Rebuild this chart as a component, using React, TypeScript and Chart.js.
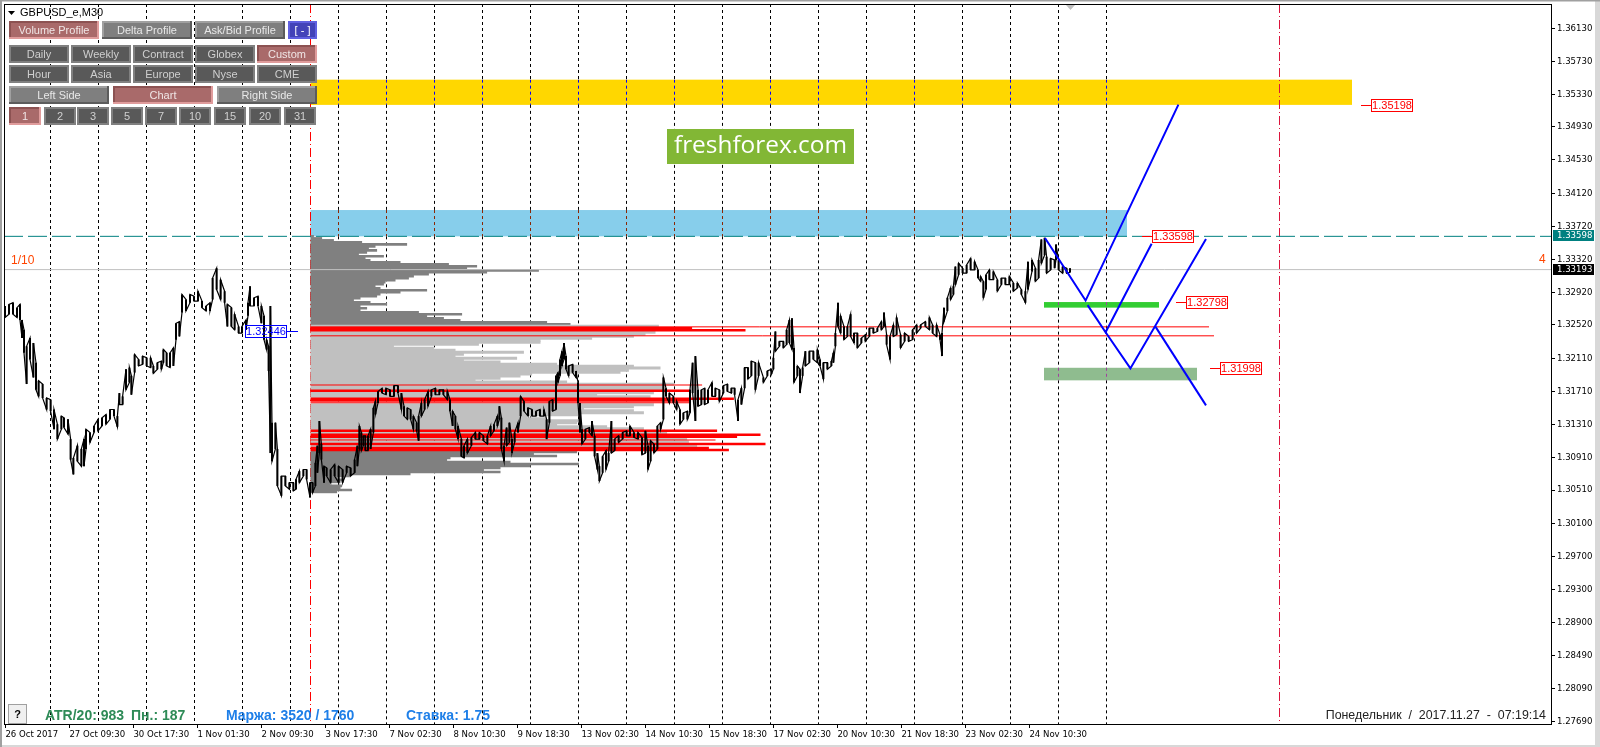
import React, { useEffect, useRef } from "react";
import { Chart, registerables } from "chart.js";

Chart.register(...registerables);

const POINT = 0.0001;

const priceTicks = [1.3613, 1.3573, 1.3533, 1.3493, 1.3453, 1.3412, 1.3372, 1.3332, 1.3292, 1.3252, 1.3211, 1.3171, 1.3131, 1.3091, 1.3051, 1.301, 1.297, 1.293, 1.289, 1.2849, 1.2809, 1.2769];
const timeLabels = ["26 Oct 2017", "27 Oct 09:30", "30 Oct 17:30", "1 Nov 01:30", "2 Nov 09:30", "3 Nov 17:30", "7 Nov 02:30", "8 Nov 10:30", "9 Nov 18:30", "13 Nov 02:30", "14 Nov 10:30", "15 Nov 18:30", "17 Nov 02:30", "20 Nov 10:30", "21 Nov 18:30", "23 Nov 02:30", "24 Nov 10:30"];
const timeTickBars = [0, 32, 64, 96, 128, 160, 192, 224, 256, 288, 320, 352, 384, 416, 448, 480, 512];

// M30 price trace: bar position, high and low, in points
const priceBars = [
  -0.2, 1.8, 3.8, 5.8, 7.3, 8.3, 9.3, 10.6, 12.3, 14, 15.3, 16.6, 18.6, 20.6, 22.6, 24.3, 26, 28, 29.3, 31.3, 32.6, 34, 36, 38, 39.3, 40.3, 42.3, 44.3, 46.3, 48.3, 50.3, 52.3, 54.3, 56, 57, 58.6, 60.3, 62, 63, 64.6, 66.6, 68.6, 70.6, 72.6, 74, 76, 78, 79, 80.6, 82.3, 84, 85.3, 87, 88.3, 90.3, 92.3, 94.3, 96.3, 98.3, 100.3, 102.3, 103.6, 105.6, 107.6, 109.6, 111, 113, 114.6, 116.6, 118.3, 120.3, 121.3, 122.3, 124.3, 126.3, 128, 129.3, 130.6, 131.6, 132.5, 133.3, 135, 136, 138, 140, 142, 144, 145.3, 147, 149, 150.6,
  152.3, 153.6, 155, 156, 157, 158, 159.3, 160.6, 162.6, 164.6, 166.6, 168.6, 170.6, 172.6, 174.6, 176, 177, 178, 179, 180, 181.3, 182.6, 184, 185, 186.3, 188.3, 190.3, 192.3, 194.3, 196.3, 198, 199.3, 201, 202.6, 204, 205.6, 206.6, 208, 209.6, 211.3, 213, 215, 217, 219, 221, 222.3, 223.6, 225, 226.3, 228, 229.3, 231, 233, 235, 237, 239, 241, 242.6, 244.3, 246, 247, 248, 249.3, 250.6, 252, 253.3, 254.6, 256.3, 257.6, 259.3, 261.3, 263.3, 265.3, 267.3, 269.3, 270.6, 272, 273.6, 275.3, 276.3, 277.3, 278.3, 279.3, 280.3, 281.6, 283.6, 285.3, 286.3, 287.3, 288.3, 290, 292, 293.3, 294.6, 296, 297, 298.6, 300.3, 301.6, 303, 304.6, 306.6, 308.6, 310.6, 312.3, 314.3, 316.3, 318.3, 320, 321.3, 322.6, 324.3, 326, 327.6, 329, 330.3, 332, 334, 335.6, 337.3, 339, 341, 342.3, 343.6, 345, 346.3, 348, 349.6, 351.3, 353.3, 355, 357, 359, 361, 363, 364.6, 366.3, 368, 369.6, 371.3, 373, 375, 376.6,
  379, 381, 383, 384, 385, 387, 389, 390.6, 392, 393.3, 394.3, 396, 397.3, 398.6, 400, 402, 404, 406, 407.3, 409, 411, 413, 414, 415, 416.3, 417.6, 419.3, 421, 422.6, 424.3, 426, 428, 430, 432, 434, 436, 438, 439.3, 440.6, 442.3, 444, 445.6, 447.6, 449.6, 451.6, 453.6, 455.6, 457.6, 460, 462, 463.6, 465.6, 467.3, 468.3, 469.3, 471, 472.6, 474, 475, 476.6, 478.6, 480.6, 482.6, 484.6, 486.3, 487.6, 489, 490.3, 492, 494, 496, 498, 500, 502, 504, 506, 508, 510, 511.3, 513.3, 515, 516.6, 518, 519.6, 520.6, 522.6, 524.6, 525.3, 526.6, 528.6, 530.6, 532.3,
];
const priceHighs = [
  13275, 13277, 13279, 13273, 13277, 13258, 13246, 13226, 13236, 13230, 13206, 13184, 13180, 13163, 13161, 13149, 13131, 13141, 13139, 13137, 13113, 13090, 13105, 13101, 13113, 13125, 13121, 13129, 13137, 13139, 13143, 13149, 13149, 13141, 13169, 13165, 13198, 13200, 13190, 13216, 13210, 13214, 13212, 13212, 13202, 13206, 13208, 13222, 13218, 13218, 13224, 13254, 13256, 13289, 13283, 13289, 13287, 13293, 13281, 13275, 13279, 13309, 13321, 13307, 13293, 13277, 13273, 13265, 13250, 13250, 13258, 13279, 13299, 13285, 13287, 13275, 13263, 13234, 13226, 13275, 13133, 13133, 13101, 13068, 13068, 13060, 13060, 13064, 13074, 13076, 13076,
  13060, 13060, 13084, 13105, 13135, 13107, 13080, 13078, 13076, 13082, 13080, 13076, 13080, 13078, 13088, 13105, 13129, 13121, 13117, 13117, 13117, 13125, 13151, 13159, 13171, 13175, 13175, 13173, 13178, 13178, 13169, 13153, 13151, 13149, 13141, 13133, 13141, 13157, 13161, 13171, 13173, 13175, 13173, 13173, 13171, 13161, 13147, 13141, 13129, 13113, 13105, 13113, 13115, 13121, 13121, 13117, 13117, 13129, 13131, 13141, 13153, 13139, 13105, 13127, 13133, 13113, 13121, 13133, 13165, 13159, 13151, 13149, 13147, 13149, 13149, 13137, 13159, 13161, 13190, 13194, 13210, 13220, 13230, 13214, 13202, 13204, 13196, 13182, 13157, 13125, 13125, 13127, 13135, 13117, 13096, 13080, 13092, 13099, 13096, 13135, 13113, 13117, 13121, 13123, 13129, 13121, 13121, 13115, 13123, 13105, 13111, 13107, 13129, 13133, 13188, 13175, 13169, 13165, 13159, 13149, 13145, 13147, 13173, 13206, 13214, 13173, 13173, 13175, 13173, 13182, 13175, 13173, 13178, 13180, 13175, 13175, 13161, 13175, 13200, 13200, 13208, 13206, 13206,
  13188, 13196, 13198, 13212, 13244, 13232, 13232, 13246, 13258, 13260, 13224, 13202, 13198, 13200, 13220, 13220, 13220, 13222, 13210, 13206, 13206, 13208, 13218, 13242, 13279, 13263, 13250, 13250, 13265, 13242, 13242, 13236, 13240, 13248, 13248, 13248, 13256, 13267, 13240, 13238, 13252, 13261, 13240, 13242, 13238, 13246, 13252, 13252, 13256, 13261, 13252, 13252, 13240, 13242, 13273, 13285, 13297, 13299, 13323, 13327, 13321, 13325, 13333, 13329, 13319, 13311, 13305, 13313, 13319, 13317, 13307, 13309, 13309, 13311, 13303, 13303, 13295, 13293, 13329, 13331, 13321, 13331, 13356, 13358, 13335, 13333, 13331, 13350, 13331, 13323, 13321, 13321,
];
const priceLows = [
  13261, 13265, 13265, 13261, 13258, 13236, 13218, 13180, 13210, 13188, 13173, 13165, 13163, 13149, 13147, 13125, 13113, 13125, 13127, 13119, 13088, 13070, 13086, 13080, 13080, 13101, 13109, 13121, 13123, 13129, 13131, 13137, 13141, 13128, 13155, 13155, 13173, 13182, 13167, 13194, 13202, 13204, 13202, 13200, 13193, 13198, 13198, 13206, 13202, 13200, 13202, 13234, 13238, 13267, 13269, 13279, 13281, 13281, 13273, 13269, 13269, 13283, 13295, 13283, 13279, 13250, 13250, 13246, 13242, 13242, 13246, 13263, 13275, 13275, 13275, 13254, 13234, 13222, 13196, 13096, 13086, 13101, 13056, 13044, 13056, 13052, 13050, 13052, 13060, 13068, 13064,
  13042, 13048, 13056, 13072, 13096, 13088, 13060, 13068, 13060, 13068, 13060, 13060, 13072, 13068, 13072, 13080, 13101, 13099, 13105, 13099, 13099, 13101, 13121, 13143, 13157, 13169, 13167, 13165, 13165, 13169, 13149, 13141, 13137, 13137, 13125, 13123, 13111, 13141, 13149, 13153, 13165, 13167, 13167, 13167, 13161, 13147, 13129, 13125, 13113, 13092, 13090, 13096, 13105, 13113, 13113, 13111, 13107, 13117, 13123, 13129, 13137, 13101, 13086, 13105, 13109, 13096, 13109, 13121, 13141, 13147, 13141, 13141, 13141, 13141, 13141, 13113, 13133, 13147, 13149, 13182, 13190, 13202, 13210, 13198, 13190, 13194, 13188, 13157, 13121, 13107, 13113, 13121, 13117, 13092, 13076, 13062, 13072, 13076, 13086, 13096, 13099, 13109, 13113, 13117, 13117, 13115, 13113, 13094, 13096, 13076, 13086, 13096, 13101, 13125, 13137, 13165, 13157, 13157, 13149, 13131, 13137, 13137, 13145, 13169, 13135, 13153, 13155, 13155, 13157, 13165, 13165, 13159, 13169, 13171, 13169, 13167, 13135, 13155, 13175, 13186, 13190, 13173, 13190,
  13182, 13190, 13192, 13198, 13220, 13226, 13224, 13228, 13230, 13222, 13182, 13190, 13169, 13190, 13202, 13206, 13210, 13206, 13202, 13186, 13198, 13202, 13206, 13226, 13250, 13242, 13234, 13238, 13238, 13230, 13224, 13230, 13232, 13238, 13242, 13244, 13246, 13250, 13228, 13210, 13238, 13240, 13224, 13232, 13232, 13234, 13242, 13248, 13250, 13246, 13242, 13238, 13234, 13214, 13256, 13269, 13283, 13289, 13301, 13313, 13315, 13315, 13319, 13319, 13309, 13305, 13285, 13295, 13307, 13307, 13293, 13301, 13301, 13301, 13293, 13297, 13289, 13279, 13295, 13317, 13305, 13309, 13327, 13337, 13315, 13319, 13321, 13331, 13319, 13315, 13315, 13316,
];

// Volume profile rows: price level in points, row length in bars
const profileDarkLevels = [13359.8, 13357.3, 13354.9, 13352.5, 13350, 13347.6, 13345.2, 13342.7, 13340.3, 13337.9, 13335.5, 13333, 13330.6, 13328.2, 13325.7, 13323.3, 13320.9, 13318.4, 13316, 13313.6, 13311.2, 13308.7, 13306.3, 13303.9, 13301.4, 13299, 13296.6, 13294.1, 13291.7, 13289.3, 13286.9, 13284.4, 13282, 13279.6, 13277.1, 13274.7, 13272.3, 13269.8, 13267.4, 13265, 13262.6, 13260.1, 13257.7, 13255.3, 13252.8, 13097.3, 13094.9, 13092.4, 13090, 13087.6, 13085.2, 13082.7, 13080.3, 13077.9, 13075.4, 13073, 13070.6, 13068.2, 13065.7, 13063.3, 13060.9, 13058.4, 13056, 13053.6, 13051.1, 13048.7];
const profileDarkLengths = [1.7, 5.8, 11.7, 25.8, 48.3, 32.5, 29.2, 33.3, 28.3, 24.2, 36.7, 27.5, 30, 45, 69.2, 83.3, 78.3, 114.2, 88.3, 59.2, 51.7, 49.2, 42.5, 37.5, 36.7, 32.5, 35, 58.3, 45, 35, 33.3, 25, 21.7, 30, 38.3, 25, 28.3, 25, 54.2, 75.8, 58.3, 66.7, 75, 118.3, 130, 133.3, 111.7, 123.3, 70, 68.3, 100, 134.2, 110, 95, 86.7, 95, 50, 20, 13.3, 15.8, 15, 10, 15.8, 15, 20.8, 13.3];
const profileLightLevels = [13250.4, 13243.1, 13240.7, 13238.3, 13235.8, 13233.4, 13231, 13228.5, 13226.1, 13223.7, 13221.2, 13218.8, 13216.4, 13214, 13211.5, 13209.1, 13206.7, 13204.2, 13201.8, 13199.4, 13196.9, 13194.5, 13192.1, 13189.7, 13187.2, 13184.8, 13182.4, 13179.9, 13176.7, 13174.3, 13169.4, 13167, 13164.5, 13154.8, 13152.4, 13150, 13147.5, 13145.1, 13142.7, 13140.2, 13137.8, 13135.4, 13133, 13130.5, 13128.1, 13125.7, 13120.8, 13113.5, 13109.5, 13104.6];
const profileLightLengths = [174.2, 172.5, 167.5, 161.7, 140.8, 115, 115, 84.2, 41.7, 61.7, 72.5, 106.7, 76.7, 72.5, 103.3, 76.7, 95, 123.3, 161.7, 175, 159.2, 155, 110.8, 105, 95, 82.5, 128.3, 181.7, 176.7, 176.7, 171.7, 143.3, 170, 171.7, 161.7, 136.7, 161.7, 166.7, 135, 108.3, 118.3, 135, 133.3, 123.3, 148.3, 166.7, 178.3, 188.3, 189.2, 193.3];
const profileRedLevels = [13248, 13245.5, 13171.8, 13162.1, 13160.1, 13123.2, 13118.4, 13115.9, 13107, 13102.2, 13099.7];
const profileRedLengths = [190.8, 217.5, 190, 211.7, 190, 203.3, 225, 213.3, 227.5, 199.2, 209.2];
const profileThinRedLevels = [13178.7, 13157.2, 13111.9];
const profileThinRedLengths = [195.8, 190, 202.5];
const profileStartBar = 152.55;

const dividerBars = [22.55, 46.55, 70.55, 94.55, 118.55, 142.55, 166.55, 190.55, 214.55, 238.55, 262.55, 286.55, 310.55, 334.55, 358.55, 382.55, 406.55, 430.55, 454.55, 478.55, 502.55, 526.55, 550.55];
const sessionBars = [152.55, 637.05];
const sessionColors = ["#ff0000", "#dc143c"];

const zoneStarts = [152.55, 152.55, 519.3, 519.3];
const zoneEnds = [673.3, 560.8, 576.8, 595.8];
const zoneTops = [1.35505, 1.33918, 1.32798, 1.31998];
const zoneBottoms = [1.35198, 1.33598, 1.3273, 1.31845];
const zoneFills = ["#ffd700", "#87ceeb", "#32cd32", "#8fbc8f"];
const zoneDividerColors = ["#0000ff", "#8b2500", "#a040a0", "#a040a0"];

// Forecast legs: bar and price pairs, one list per leg
const legBars = [
  [519.8, 540.1, 586.5],
  [541.1, 550.1, 573.1],
  [550.1, 562.5, 600.3],
  [575.1, 600.3],
];
const legPrices = [
  [1.33577, 1.32816, 1.35202],
  [1.3276, 1.3243, 1.33508],
  [1.3243, 1.3199, 1.33565],
  [1.32496, 1.3154],
];

const supportLevels = [1.32496, 1.32387];
const supportEndBars = [601.8, 604.3];
const ceilingLevel = 1.33598;
const bidLevel = 1.33193;

const tagValues = ["1.35198", "1.33598", "1.32798", "1.31998", "1.32446"];
const tagPrices = [1.35198, 1.33598, 1.32798, 1.31998, 1.32446];
const tagBars = [682.8, 573.3, 590.3, 607.3, 119.8];
const tagColors = ["#ff0000", "#ff0000", "#ff0000", "#ff0000", "#0000ff"];

const profileTabs = ["Volume Profile", "Delta Profile", "Ask/Bid Profile"];
const sessionTabs = ["Daily", "Weekly", "Contract", "Globex", "Custom", "Hour", "Asia", "Europe", "Nyse", "CME"];
const sideTabs = ["Left Side", "Chart", "Right Side"];
const countTabs = ["1", "2", "3", "5", "7", "10", "15", "20", "31"];

const SANS = '"Liberation Sans", Arial, sans-serif';
const AXIS = '"DejaVu Sans Condensed", "DejaVu Sans", sans-serif';

function button(ctx: any, x0: number, y0: number, x1: number, y1: number, label: string, fill: string, tl: string, br: string, fg: string) {
  const b = 2;
  ctx.fillStyle = fill;
  ctx.fillRect(x0, y0, x1 - x0, y1 - y0);
  ctx.fillStyle = tl;
  ctx.fillRect(x0, y0, x1 - x0, b);
  ctx.fillRect(x0, y0, b, y1 - y0);
  ctx.fillStyle = br;
  ctx.fillRect(x0, y1 - b, x1 - x0, b);
  ctx.fillRect(x1 - b, y0, b, y1 - y0);
  ctx.fillStyle = fg;
  ctx.font = `11px ${SANS}`;
  ctx.textAlign = "center";
  ctx.textBaseline = "middle";
  ctx.fillText(label, (x0 + x1) / 2, (y0 + y1) / 2 + 0.5);
}
const GREY: [string, string, string, string] = ["#7f7f7f", "#a0a0a0", "#5c5c5c", "#e8e8e8"];
const DARK: [string, string, string, string] = ["#595959", "#808080", "#808080", "#cfcfcf"];
const PRESSED: [string, string, string, string] = ["#a96a6a", "#8c5252", "#e09c9c", "#f0e6e6"];
const BLUE: [string, string, string, string] = ["#4343b8", "#6060e0", "#6060e0", "#ffffff"];

const framePlugin = {
  id: "frame",
  beforeDraw(chart: any) {
    const { ctx, width, height } = chart;
    ctx.save();
    ctx.fillStyle = "#ffffff";
    ctx.fillRect(0, 0, width, height);
    ctx.fillStyle = "#d8d8d8";
    ctx.fillRect(0, height - 2, width, 2);
    ctx.fillRect(width - 5, 0, 5, height);
    ctx.fillStyle = "#a0a0a0";
    ctx.fillRect(0, 0, width, 1.5);
    ctx.fillRect(0, 0, 2, height);
    ctx.restore();
  },
};

const zonePlugin = {
  id: "zones",
  beforeDatasetsDraw(chart: any) {
    const { ctx, scales } = chart;
    ctx.save();
    zoneFills.forEach((fill, i) => {
      const x0 = scales.x.getPixelForValue(zoneStarts[i]);
      const x1 = scales.x.getPixelForValue(zoneEnds[i]);
      const y0 = scales.y.getPixelForValue(zoneTops[i]);
      const y1 = scales.y.getPixelForValue(zoneBottoms[i]);
      ctx.fillStyle = fill;
      ctx.fillRect(x0, y0, x1 - x0, y1 - y0);
    });
    ctx.restore();
  },
};

const overlayPlugin = {
  id: "overlay",
  afterDraw(chart: any) {
    const { ctx, scales, chartArea } = chart;
    const { x, y } = scales;
    ctx.save();
    ctx.strokeStyle = "#000000";
    ctx.lineWidth = 1;
    ctx.strokeRect(chartArea.left + 0.5, chartArea.top + 0.5, chartArea.right - chartArea.left, chartArea.bottom - chartArea.top);

    // price tags
    ctx.font = `11px ${SANS}`;
    tagValues.forEach((text, i) => {
      const left = Math.round(x.getPixelForValue(tagBars[i]));
      const py = Math.round(y.getPixelForValue(tagPrices[i]));
      ctx.strokeStyle = tagColors[i];
      ctx.fillStyle = tagColors[i];
      ctx.lineWidth = 1;
      ctx.beginPath();
      if (i < 4) {
        ctx.moveTo(left - 10, py + 0.5);
        ctx.lineTo(left, py + 0.5);
      } else {
        ctx.moveTo(left + 42, py + 0.5);
        ctx.lineTo(left + 53, py + 0.5);
      }
      ctx.stroke();
      if (i < 4) {
        ctx.fillStyle = "#ffffff";
        ctx.fillRect(left, py - 5, 41, 12);
      }
      ctx.strokeRect(left + 0.5, py - 5.5, 41, 12);
      ctx.fillStyle = tagColors[i];
      ctx.textAlign = "center";
      ctx.textBaseline = "middle";
      ctx.fillText(text, left + 21, py + 1);
    });

    // axis price flags
    const flag = (price: number, bg: string, text: string) => {
      const py = y.getPixelForValue(price);
      ctx.fillStyle = bg;
      ctx.fillRect(1553, Math.round(py) - 6, 41, 11);
      ctx.fillStyle = "#ffffff";
      ctx.font = `9.5px ${AXIS}`;
      ctx.textAlign = "left";
      ctx.textBaseline = "middle";
      ctx.fillText(text, 1557, Math.round(py));
    };
    flag(ceilingLevel, "#008080", "1.33598");
    flag(bidLevel, "#000000", "1.33193");

    // symbol caption
    ctx.fillStyle = "#000000";
    ctx.beginPath();
    ctx.moveTo(8, 11);
    ctx.lineTo(15, 11);
    ctx.lineTo(11.5, 15);
    ctx.closePath();
    ctx.fill();
    ctx.font = `11px ${SANS}`;
    ctx.textAlign = "left";
    ctx.textBaseline = "middle";
    ctx.fillText("GBPUSD_e,M30", 20, 13);

    // shift marker
    ctx.fillStyle = "#c0c0c0";
    ctx.beginPath();
    ctx.moveTo(1066, 5);
    ctx.lineTo(1075, 5);
    ctx.lineTo(1070.5, 10);
    ctx.closePath();
    ctx.fill();

    // toolbar
    const p0 = [9, 102, 195];
    profileTabs.forEach((t, i) => {
      const s = i === 0 ? PRESSED : GREY;
      button(ctx, p0[i], 21, p0[i] + 90, 39, t, s[0], s[1], s[2], s[3]);
    });
    button(ctx, 288, 21, 317, 39, "[ - ]", BLUE[0], BLUE[1], BLUE[2], BLUE[3]);
    sessionTabs.forEach((t, i) => {
      const col = i % 5;
      const top = i < 5 ? 45 : 65;
      const s = i === 4 ? PRESSED : DARK;
      const x0 = 9 + col * 62;
      button(ctx, x0, top, x0 + 60, top + 18, t, s[0], s[1], s[2], s[3]);
    });
    sideTabs.forEach((t, i) => {
      const s = i === 1 ? PRESSED : GREY;
      const x0 = 9 + i * 104;
      button(ctx, x0, 86, x0 + 100, 104, t, s[0], s[1], s[2], s[3]);
    });
    const c0 = [9, 44, 77, 111, 145, 179, 214, 249, 284];
    countTabs.forEach((t, i) => {
      const s = i === 0 ? PRESSED : DARK;
      button(ctx, c0[i], 107, c0[i] + 32, 125, t, s[0], i === 0 ? s[1] : "#808080", i === 0 ? s[2] : "#808080", s[3]);
    });

    // logo
    ctx.fillStyle = "#82b735";
    ctx.fillRect(667, 129, 187, 35);
    ctx.fillStyle = "#ffffff";
    ctx.font = '24.4px "Open Sans", sans-serif';
    ctx.textAlign = "center";
    ctx.textBaseline = "middle";
    ctx.fillText("freshforex.com", 760.5, 146);

    // corner counters
    ctx.fillStyle = "#ff4500";
    ctx.font = `12px ${SANS}`;
    ctx.textAlign = "left";
    ctx.fillText("1/10", 11, 261);
    ctx.fillText("4", 1539, 260);

    // help button
    ctx.fillStyle = "#f0f0f0";
    ctx.fillRect(8, 704, 19, 20);
    ctx.strokeStyle = "#a0a0a0";
    ctx.strokeRect(8.5, 704.5, 18, 19);
    ctx.fillStyle = "#000000";
    ctx.font = `bold 11px ${SANS}`;
    ctx.textAlign = "center";
    ctx.fillText("?", 17.5, 714.5);

    // status line
    ctx.textAlign = "left";
    ctx.font = `bold 14px ${SANS}`;
    ctx.fillStyle = "#2e8b57";
    ctx.fillText("ATR/20: 983", 45, 716);
    ctx.fillText("Пн.: 187", 131, 716);
    ctx.fillStyle = "#1e7fe8";
    ctx.fillText("Маржа: 3520 / 1760", 226, 716);
    ctx.fillText("Ставка: 1.75", 406, 716);
    ctx.fillStyle = "#222222";
    ctx.font = `12.4px ${SANS}`;
    ctx.textAlign = "right";
    ctx.fillText("Понедельник  /  2017.11.27  -  07:19:14", 1546, 716);
    ctx.restore();
  },
};

function dividerPieces() {
  const yTop = 1.36426;
  const yBottom = 1.27662;
  const black: any[] = [];
  const tinted: any[][] = zoneFills.map(() => []);
  dividerBars.forEach((bar) => {
    let cursor = yTop;
    zoneFills.forEach((_, i) => {
      if (bar < zoneStarts[i] || bar > zoneEnds[i]) return;
      black.push({ x: bar, y: cursor }, { x: bar, y: zoneTops[i] }, { x: bar, y: null });
      tinted[i].push({ x: bar, y: zoneTops[i] }, { x: bar, y: zoneBottoms[i] }, { x: bar, y: null });
      cursor = zoneBottoms[i];
    });
    black.push({ x: bar, y: cursor }, { x: bar, y: yBottom }, { x: bar, y: null });
  });
  return { black, tinted };
}

function traceLine() {
  const pts: any[] = [];
  priceBars.forEach((bar, i) => {
    const first = i % 2 === 0 ? priceHighs[i] : priceLows[i];
    const second = i % 2 === 0 ? priceLows[i] : priceHighs[i];
    pts.push({ x: bar, y: first * POINT }, { x: bar, y: second * POINT });
  });
  return pts;
}

function traceBars() {
  return priceBars.map((bar, i) => ({ x: bar, y: [priceLows[i] * POINT, priceHighs[i] * POINT] }));
}

function profileRows(levels: number[], lengths: number[]) {
  return levels.map((level, i) => ({ y: level * POINT, x: [profileStartBar, profileStartBar + lengths[i]] }));
}

const line = (data: any[], color: string, width: number, order: number, dash: number[] = []) => ({
  type: "line",
  data,
  borderColor: color,
  borderWidth: width,
  borderDash: dash,
  pointRadius: 0,
  tension: 0,
  spanGaps: false,
  order,
  parsing: { xAxisKey: "x", yAxisKey: "y" },
});

const rows = (data: any[], color: string, thickness: number, order: number) => ({
  type: "bar",
  indexAxis: "y",
  grouped: false,
  data,
  backgroundColor: color,
  borderWidth: 0,
  barThickness: thickness,
  inflateAmount: 0,
  order,
});

const noPadding = (s: any) => {
  s.paddingLeft = 0;
  s.paddingRight = 0;
  s.paddingTop = 0;
  s.paddingBottom = 0;
};

export default function App() {
  const ref = useRef<HTMLCanvasElement>(null);
  useEffect(() => {
    document.body.style.margin = "0";
    const { black, tinted } = dividerPieces();
    const datasets: any[] = [
      line(black, "#000000", 1, 60, [3, 3]),
      ...tinted.map((pts, i) => line(pts, zoneDividerColors[i], 1, 59, [3, 3])),
      ...sessionBars.map((bar, i) => line([{ x: bar, y: 1.36426 }, { x: bar, y: 1.27662 }], sessionColors[i], 1, 58, [9, 3, 1, 3])),
      rows(profileRows(profileDarkLevels, profileDarkLengths), "#808080", 2.6, 50),
      rows(profileRows(profileLightLevels, profileLightLengths), "#c0c0c0", 3, 49),
      rows(profileRows(profileRedLevels, profileRedLengths), "#ff0000", 2.5, 48),
      rows(profileRows(profileThinRedLevels, profileThinRedLengths), "#ff0000", 1, 47),
      line([{ x: -0.7, y: ceilingLevel }, { x: 772.8, y: ceilingLevel }], "#008080", 1, 40, [19, 5]),
      line([{ x: -0.7, y: bidLevel }, { x: 772.8, y: bidLevel }], "#c0c0c0", 1, 39),
      ...supportLevels.map((level, i) => line([{ x: profileStartBar, y: level }, { x: supportEndBars[i], y: level }], "#ff0000", 1, 30)),
      line(traceLine(), "#000000", 1.2, 20),
      { type: "bar", grouped: false, data: traceBars(), backgroundColor: "#000000", borderWidth: 0, barThickness: 2, inflateAmount: 0, order: 19 },
      ...legBars.map((bars, i) => line(bars.map((b, j) => ({ x: b, y: legPrices[i][j] })), "#0000ff", 2, 10)),
    ];
    const chart = new Chart(ref.current as HTMLCanvasElement, {
      type: "line",
      data: { datasets },
      plugins: [framePlugin, zonePlugin, overlayPlugin],
      options: {
        animation: false,
        responsive: false,
        devicePixelRatio: 1,
        events: [],
        layout: { padding: { left: 4, top: 4, right: 0, bottom: 0 } },
        plugins: { legend: { display: false }, tooltip: { enabled: false }, title: { display: false } },
        scales: {
          x: {
            type: "linear",
            offset: false,
            min: -0.7,
            max: 772.8,
            afterFit(s: any) { s.height = 23; noPadding(s); },
            afterBuildTicks(s: any) { s.ticks = timeTickBars.map((value) => ({ value })); },
            border: { display: true, color: "#000000", width: 1 },
            grid: { drawOnChartArea: false, drawTicks: true, tickLength: 4, color: "#000000", offset: false },
            ticks: {
              color: "#000000",
              font: { family: AXIS, size: 9.5 },
              autoSkip: false,
              maxRotation: 0,
              minRotation: 0,
              align: "start",
              padding: 1,
              callback: (_: any, i: number) => timeLabels[i],
            },
          },
          y: {
            type: "linear",
            position: "right",
            offset: false,
            min: 1.27662,
            max: 1.36426,
            afterFit(s: any) { s.width = 49; noPadding(s); },
            afterBuildTicks(s: any) { s.ticks = priceTicks.map((value) => ({ value })); },
            border: { display: true, color: "#000000", width: 1 },
            grid: { drawOnChartArea: false, drawTicks: true, tickLength: 4, color: "#000000", offset: false },
            ticks: {
              color: "#000000",
              font: { family: AXIS, size: 9.5 },
              autoSkip: false,
              padding: 2,
              callback: (v: any) => Number(v).toFixed(5),
            },
          },
        },
      },
    } as any);
    return () => chart.destroy();
  }, []);
  return (
    <div style={{ position: "absolute", left: 0, top: 0, width: 1600, height: 747 }}>
      <canvas ref={ref} width={1600} height={747} style={{ display: "block", width: 1600, height: 747 }} />
    </div>
  );
}
